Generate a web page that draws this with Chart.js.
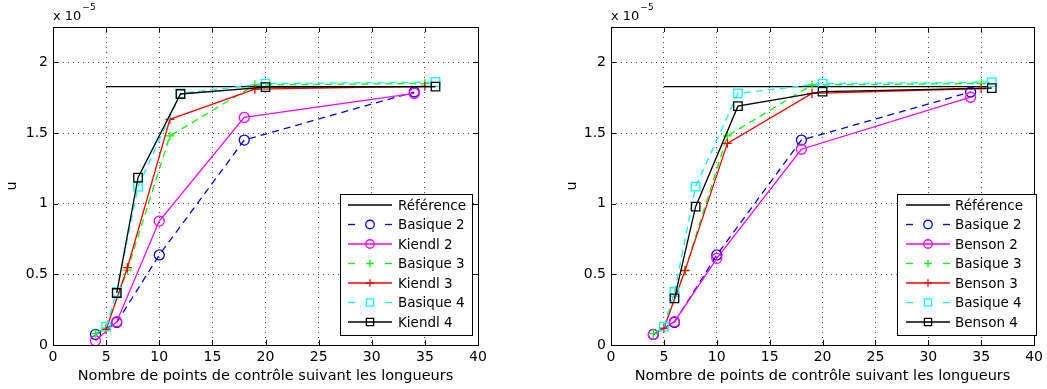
<!DOCTYPE html>
<html>
<head>
<meta charset="utf-8">
<script src="https://cdn.jsdelivr.net/npm/chart.js@4/dist/chart.umd.min.js"></script>
<style>
  body { margin: 0; background: #fff; }
  .plot { position: absolute; top: 0; width: 524px; height: 389px; }
  #left { left: 0; }
  #right { left: 523px; }
</style>
</head>
<body>
<div class="plot" id="left"><canvas id="chartLeft"></canvas></div>
<div class="plot" id="right"><canvas id="chartRight"></canvas></div>
<script>
// values are in units of 1e-5 (axis shows "x 10^-5")
const xTicks = [0, 5, 10, 15, 20, 25, 30, 35, 40];
const yTicks = [0, 0.5, 1, 1.5, 2];

const refX = [5, 36];
const refY = [1.828, 1.828];

const deg2X = [4, 6, 10, 18, 34];
const basique2Y = [0.075, 0.16, 0.637, 1.45, 1.79];
const kiendl2Y = [0.03, 0.165, 0.877, 1.61, 1.78];
const benson2Y = [0.075, 0.165, 0.613, 1.385, 1.753];

const basique3X = [4, 5, 7, 11, 19, 35];
const basique3Y = [0.08, 0.12, 0.53, 1.479, 1.84, 1.85];
const deg3X = [5, 7, 11, 19, 35];
const kiendl3Y = [0.11, 0.547, 1.597, 1.81, 1.83];
const benson3Y = [0.118, 0.526, 1.427, 1.78, 1.815];

const basique4X = [5, 6, 8, 12, 20, 36];
const basique4Y = [0.13, 0.375, 1.12, 1.78, 1.85, 1.86];
const deg4X = [6, 8, 12, 20, 36];
const kiendl4Y = [0.368, 1.184, 1.776, 1.824, 1.828];
const benson4Y = [0.33, 0.979, 1.69, 1.793, 1.817];

const FONT = 'DejaVu Sans';
const pts = (xs, ys) => xs.map((x, i) => ({ x: x, y: ys[i] }));

function series(label, xs, ys, color, dashed, marker, i) {
    const radius = marker === 'circle' ? 5 : marker === 'rect' ? 6 : marker === 'cross' ? 4.5 : 0;
    return {
        label: label,
        data: pts(xs, ys),
        borderColor: color,
        borderWidth: 1.3,
        borderDash: dashed ? [7, 5] : [],
        pointStyle: marker || 'circle',
        pointRadius: radius,
        pointBorderColor: color,
        pointBorderWidth: 1.3,
        pointBackgroundColor: 'rgba(0,0,0,0)',
        tension: 0,
        fill: false,
        order: -i
    };
}

const matlabFrame = {
    id: 'matlabFrame',
    afterDraw(chart, args, opts) {
        const { ctx, chartArea: a, scales: { x, y } } = chart;
        ctx.save();
        ctx.strokeStyle = '#000';
        ctx.lineWidth = 1;
        ctx.setLineDash([]);
        const line = (x1, y1, x2, y2) => { ctx.beginPath(); ctx.moveTo(x1, y1); ctx.lineTo(x2, y2); ctx.stroke(); };
        // inward ticks
        xTicks.forEach(v => {
            const p = Math.round(x.getPixelForValue(v)) + 0.5;
            line(p, a.bottom, p, a.bottom - 5);
            line(p, a.top, p, a.top + 5);
        });
        yTicks.forEach(v => {
            const p = Math.round(y.getPixelForValue(v)) + 0.5;
            line(a.left, p, a.left + 5, p);
            line(a.right, p, a.right - 5, p);
        });
        // box
        ctx.strokeRect(Math.round(a.left) + 0.5, Math.round(a.top) + 0.5, Math.round(a.width), Math.round(a.height));

        ctx.fillStyle = '#000';
        // exponent
        ctx.font = '13px ' + FONT;
        ctx.textBaseline = 'alphabetic';
        ctx.textAlign = 'left';
        ctx.fillText('x 10', a.left, 20);
        const w = ctx.measureText('x 10').width;
        ctx.font = '9px ' + FONT;
        ctx.fillText('\u22125', a.left + w + 1, 10);
        // axis titles
        ctx.font = '14.5px ' + FONT;
        ctx.textAlign = 'center';
        ctx.textBaseline = 'middle';
        ctx.fillText(opts.xTitle, (a.left + a.right) / 2, 376);
        ctx.save();
        ctx.translate(opts.yTitleX, (a.top + a.bottom) / 2);
        ctx.rotate(-Math.PI / 2);
        ctx.fillText('u', 0, 0);
        ctx.restore();

        // legend
        const L = opts.legend;
        ctx.fillStyle = '#fff';
        ctx.fillRect(L.left, L.top, L.width, L.height);
        ctx.strokeStyle = '#000';
        ctx.strokeRect(L.left + 0.5, L.top + 0.5, L.width, L.height);
        ctx.font = '13.5px ' + FONT;
        ctx.textAlign = 'left';
        ctx.textBaseline = 'middle';
        chart.data.datasets.forEach((ds, i) => {
            const cy = L.top + 11 + i * 19.5;
            const x1 = L.left + L.lineStart, x2 = x1 + 44, cx = (x1 + x2) / 2;
            ctx.strokeStyle = ds.borderColor;
            ctx.lineWidth = 1.3;
            ctx.setLineDash(ds.borderDash);
            if (ds.borderDash.length) {
                line(x1, cy, x1 + 7, cy);
                line(x2 - 7, cy, x2, cy);
            } else {
                line(x1, cy, x2, cy);
            }
            ctx.setLineDash([]);
            if (ds.pointRadius > 0) {
                ctx.fillStyle = 'rgba(0,0,0,0)';
                Chart.helpers.drawPoint(ctx, {
                    pointStyle: ds.pointStyle, rotation: 0, radius: ds.pointRadius * 0.85,
                    borderWidth: 1.3
                }, cx, cy);
            }
            ctx.fillStyle = '#000';
            ctx.fillText(ds.label, L.left + L.textStart, cy + 1);
        });
        ctx.restore();
    }
};

function makeChart(id, names, ys2, ys3, ys4, frame) {
    const datasets = [
        series('R\u00e9f\u00e9rence', refX, refY, '#000000', false, null, 0),
        series('Basique 2', deg2X, basique2Y, '#0000ff', true, 'circle', 1),
        series(names + ' 2', deg2X, ys2, '#ff00ff', false, 'circle', 2),
        series('Basique 3', basique3X, basique3Y, '#00ff00', true, 'cross', 3),
        series(names + ' 3', deg3X, ys3, '#ff0000', false, 'cross', 4),
        series('Basique 4', basique4X, basique4Y, '#00ffff', true, 'rect', 5),
        series(names + ' 4', deg4X, ys4, '#000000', false, 'rect', 6)
    ];
    return new Chart(document.getElementById(id), {
        type: 'line',
        data: { datasets: datasets },
        options: {
            responsive: true,
            maintainAspectRatio: false,
            animation: false,
            events: [],
            layout: { padding: frame.padding },
            plugins: {
                legend: { display: false },
                tooltip: { enabled: false },
                matlabFrame: frame
            },
            scales: {
                x: {
                    type: 'linear',
                    min: 0,
                    max: 40,
                    afterBuildTicks: s => { s.ticks = xTicks.map(v => ({ value: v })); },
                    afterFit: s => { s.height = 44; },
                    grid: { color: 'rgba(0,0,0,0.7)', lineWidth: 1, drawTicks: false },
                    border: { display: false, dash: [1, 4] },
                    ticks: { color: '#000', font: { family: FONT, size: 14 }, padding: 4, maxRotation: 0,
                             callback: v => String(v) }
                },
                y: {
                    type: 'linear',
                    min: 0,
                    max: 2.25,
                    afterBuildTicks: s => { s.ticks = yTicks.map(v => ({ value: v })); },
                    afterFit: s => { s.width = frame.yWidth; },
                    grid: { color: 'rgba(0,0,0,0.7)', lineWidth: 1, drawTicks: false },
                    border: { display: false, dash: [1, 4] },
                    ticks: { color: '#000', font: { family: FONT, size: 14 }, padding: 5,
                             callback: v => String(v) }
                }
            }
        },
        plugins: [matlabFrame]
    });
}

makeChart('chartLeft', 'Kiendl', kiendl2Y, kiendl3Y, kiendl4Y, {
    padding: { left: 0, top: 27, right: 524 - 478, bottom: 0 },
    yWidth: 53,
    yTitleX: 12,
    xTitle: 'Nombre de points de contr\u00f4le suivant les longueurs',
    legend: { left: 340, top: 194, width: 132, height: 141, lineStart: 8, textStart: 58 }
});

makeChart('chartRight', 'Benson', benson2Y, benson3Y, benson4Y, {
    padding: { left: 0, top: 27, right: 524 - 515, bottom: 0 },
    yWidth: 88,
    yTitleX: 49,
    xTitle: 'Nombre de points de contr\u00f4le suivant les longueurs',
    legend: { left: 374, top: 194, width: 139, height: 141, lineStart: 9, textStart: 58 }
});
</script>
</body>
</html>
